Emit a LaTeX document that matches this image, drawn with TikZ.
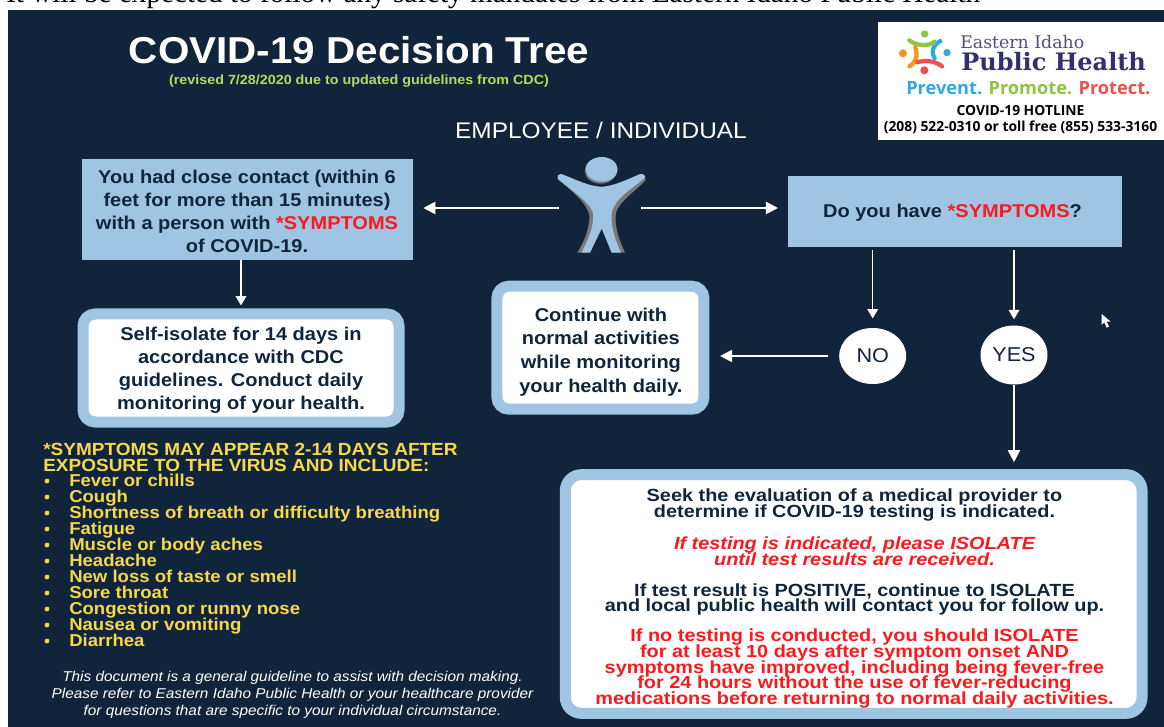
\documentclass[tikz,border=0pt]{standalone}
\usepackage{fontspec}
\usetikzlibrary{arrows.meta,shapes.geometric}
\setmainfont[FakeStretch=1.08]{Liberation Sans}
\newfontfamily\widerx[FakeStretch=1.13]{Liberation Sans}
\newfontfamily\serifx{Liberation Serif}
\newfontfamily\slabx{DejaVu Serif}
\newfontfamily\humx{Open Sans}
\definecolor{navy}{HTML}{10253B}
\definecolor{pale}{HTML}{9FC5E3}
\definecolor{redx}{HTML}{F81A1F}
\definecolor{yel}{HTML}{F5D84B}
\definecolor{lime}{HTML}{B5DD5A}
\definecolor{greyx}{HTML}{77797C}
\definecolor{dkpurple}{HTML}{33306F}
\definecolor{blu}{HTML}{2FA9E4}
\definecolor{grn}{HTML}{8CC63F}
\definecolor{coral}{HTML}{EF4F50}
\definecolor{org}{HTML}{F7941D}
\newcommand{\fsz}[2]{\fontsize{#1}{#2}\selectfont\lineskiplimit=-20pt\relax}
\tikzset{
  x=0.75pt,y=-0.75pt,
  arrbig/.style={draw=white,line width=1.5pt,-{Triangle[length=9pt,width=9pt]}},
  arrsmall/.style={draw=white,line width=1pt,-{Triangle[length=7pt,width=8pt]}},
  bluebox/.style={fill=pale,inner sep=0pt},
  softbox/.style={fill=white,draw=pale,line width=8.25pt,rounded corners=9pt,inner sep=0pt},
  circ/.style={ellipse,fill=white,inner sep=0pt,text=navy,font=\fsz{15}{15}},
  boxtext/.style={inner sep=0pt,align=center,text=navy,font=\bfseries\fsz{13.9}{17.3}},
  sym/.style={anchor=base west,inner sep=0pt,text=yel,font=\bfseries\fsz{12.88}{12}},
  symhead/.style={sym,font=\bfseries\fsz{13.2}{12}},
  bul/.style={circle,fill=yel,inner sep=0pt,minimum size=3.6pt},
  foot/.style={inner sep=0pt,text=white,align=center,font=\itshape\fsz{10.65}{12.9}},
}
\begin{document}
\begin{tikzpicture}
\useasboundingbox (0,0) rectangle (1164,727);
\clip (0,0) rectangle (1164,727);
\fill[white] (0,0) rectangle (1164,727);
\node[anchor=base west,inner sep=0pt,text=black,font=\serifx\fsz{21.9}{22}] (top) at (6,3) {It will be expected to follow any safety mandates from Eastern Idaho Public Health};
\fill[navy] (8,10) rectangle (1164,727);
% header
\node[inner sep=0pt,text=white,font=\bfseries\fsz{28.05}{30}] (title) at (359,50) {COVID-19 Decision Tree};
\node[inner sep=0pt,text=lime,font=\bfseries\fsz{9.95}{11}] (rev) at (359,81) {(revised 7/28/2020 due to updated guidelines from CDC)};
\node[inner sep=0pt,text=white,font=\fsz{16.95}{18}] (emp) at (601,130) {EMPLOYEE / INDIVIDUAL};
% logo
\node[fill=white,minimum width=214.7pt,minimum height=88.5pt,inner sep=0pt,anchor=north west] (logo) at (877.7,22) {};
\begin{scope}[shift={(892,25)},scale=1/3]
  \fill[grn] (98,27) circle[radius=11];
  \fill[org] (33,85) circle[radius=12];
  \fill[blu] (165,83) circle[radius=11];
  \fill[coral] (97,136) circle[radius=12];
  \draw[org,line width=3.2pt,line cap=round] (70,66) .. controls (78,95) and (72,112) .. (52,124);
  \draw[blu,line width=3.2pt,line cap=round] (145,48) .. controls (122,62) and (116,80) .. (128,100);
  \draw[grn,line width=3.2pt,line cap=round] (52,46) .. controls (72,62) and (108,66) .. (128,50);
  \draw[coral,line width=3.2pt,line cap=round] (76,112) .. controls (100,104) and (130,108) .. (150,124);
\end{scope}
\node[inner sep=0pt,anchor=west,text=dkpurple!85,font=\slabx\fsz{13}{13}] (eih) at (960,42) {Eastern Idaho};
\node[inner sep=0pt,anchor=west,text=dkpurple,font=\slabx\bfseries\fsz{18}{18}] (pubh) at (961,62) {Public Health};
\node[inner sep=0pt,anchor=west,font=\humx\bfseries\fsz{13.67}{14}] (slog) at (906,88) {\textcolor{blu}{Prevent.} \textcolor{grn}{Promote.} \textcolor{coral}{Protect.}};
\node[inner sep=0pt,text=black,font=\humx\bfseries\fsz{10.4}{11}] (hot) at (1020.5,111) {COVID-19 HOTLINE};
\node[inner sep=0pt,text=black,font=\humx\bfseries\fsz{10.4}{11}] (phone) at (1020.5,127) {(208) 522-0310 or toll free (855) 533-3160};
% person
\node[inner sep=0pt,minimum width=61.5pt,minimum height=20pt] (person) at (600,208) {};
\begin{scope}[shift={(540,140)},scale=1/3]
  \fill[greyx] (50,115) .. controls (100,155) and (140,190) .. (148,225) .. controls (150,265) and (130,310) .. (112,338) -- (150,338) -- (185,265) -- (215,338) -- (255,338) .. controls (235,295) and (222,255) .. (228,218) .. controls (238,185) and (280,158) .. (318,120) -- (305,103) -- (185,160) -- cycle;
  \fill[pale] (55,105) .. controls (60,100) and (66,102) .. (72,105) .. controls (110,120) and (150,140) .. (185,140) .. controls (215,140) and (260,120) .. (300,102) .. controls (310,100) and (318,108) .. (315,113) .. controls (272,150) and (228,172) .. (216,215) .. controls (210,255) and (225,300) .. (243,338) -- (215,338) -- (185,265) -- (150,338) -- (125,338) .. controls (145,295) and (165,255) .. (158,215) .. controls (145,185) and (100,155) .. (55,118) .. controls (52,114) and (52,108) .. (55,105) -- cycle;
  \fill[greyx] (182,92) ellipse[x radius=48,y radius=39];
  \fill[pale] (185,88) ellipse[x radius=48,y radius=37];
\end{scope}
% boxes
\node[bluebox,minimum width=248.25pt,minimum height=75.75pt] (contact) at (247.5,209.5) {};
\node[boxtext] (contacttext) at (247,211) {You had close contact (within 6\\feet for more than 15 minutes)\\with a person with \textcolor{redx}{*SYMPTOMS}\\of COVID-19.};
\node[bluebox,minimum width=250.5pt,minimum height=53.25pt] (q) at (955.25,211.5) {};
\node[boxtext] (qtext) at (952.5,213) {Do you have \textcolor{redx}{*SYMPTOMS}?};
\node[softbox,minimum width=237pt,minimum height=81pt] (self) at (241,368) {};
\node[boxtext,font=\bfseries\fsz{13.9}{17.2}] (selftext) at (241,370.5) {Self-isolate for 14 days in\\accordance with CDC\\guidelines. Conduct daily\\monitoring of your health.};
\node[softbox,minimum width=155.25pt,minimum height=92.25pt] (cont) at (600.4,347.7) {};
\node[boxtext,font=\bfseries\fsz{13.9}{17.75}] (conttext) at (600.9,352) {Continue with\\normal activities\\while monitoring\\your health daily.};
\node[softbox,minimum width=432.5pt,minimum height=179pt,rounded corners=12pt] (big) at (853.7,594) {};
\node[inner sep=0pt,align=center,text=navy,font=\widerx\bfseries\fsz{13.2}{11.85}] (bigtext) at (854.5,598.5) {Seek the evaluation of a medical provider to\\determine if COVID-19 testing is indicated.\\[12.2pt]
\textcolor{redx}{\itshape If testing is indicated, please ISOLATE}\\\textcolor{redx}{\itshape until test results are received.}\\[11.5pt]
If test result is POSITIVE, continue to ISOLATE\\and local public health will contact you for follow up.\\[10.3pt]
\textcolor{redx}{If no testing is conducted, you should ISOLATE}\\\textcolor{redx}{for at least 10 days after symptom onset AND}\\\textcolor{redx}{symptoms have improved, including being fever-free}\\\textcolor{redx}{for 24 hours without the use of fever-reducing}\\\textcolor{redx}{medications before returning to normal daily activities.}};
\node[circ,minimum width=50.25pt,minimum height=42pt] (no) at (872.7,356) {NO};
\node[circ,minimum width=50.25pt,minimum height=44.25pt] (yes) at (1014,355) {YES};
% connectors
\coordinate (cdown) at (241,260);
\draw[arrbig,shorten >=7.5pt] (person.west) -- (person.west -| contact.east);
\draw[arrbig,shorten >=7.5pt] (person.east) -- (person.east -| q.west);
\draw[arrsmall,shorten >=2.25pt] (contact.south -| cdown) -- (self.north -| cdown);
\draw[arrsmall,shorten <=2.25pt,shorten >=7pt] (q.south -| no) -- (no.north);
\draw[arrsmall,shorten <=2.25pt,shorten >=4.5pt] (q.south -| yes) -- (yes.north);
\draw[arrbig,shorten <=8pt,shorten >=8pt] (no.west) -- (no.west -| cont.east);
\draw[arrbig,shorten >=5.25pt] (yes.south) -- (yes.south |- big.north);
% symptoms
\node[symhead] (h1) at (43,455.7) {*SYMPTOMS MAY APPEAR 2-14 DAYS AFTER};
\node[symhead] (h2) at (43,471) {EXPOSURE TO THE VIRUS AND INCLUDE:};
\foreach \i/\t [count=\n from 0] in {a/Fever or chills,b/Cough,c/Shortness of breath or difficulty breathing,d/Fatigue,e/Muscle or body aches,f/Headache,g/New loss of taste or smell,h/Sore throat,j/Congestion or runny nose,k/Nausea or vomiting,l/Diarrhea}{
  \node[sym] (item\i) at (69,486.7+\n*16) {\t};
  \node[bul] (bul\i) at (47,481+\n*16) {};
}
\node[foot] (footn) at (292.5,695) {This document is a general guideline to assist with decision making.\\Please refer to Eastern Idaho Public Health or your healthcare provider\\for questions that are specific to your individual circumstance.};
% pointer
\begin{scope}[shift={(1090,305)},scale=1/3]
  \fill[white] (35,27) -- (35,60) -- (43,52) -- (50,68) -- (57,65) -- (50,50) -- (62,50) -- cycle;
\end{scope}
\end{tikzpicture}
\end{document}
